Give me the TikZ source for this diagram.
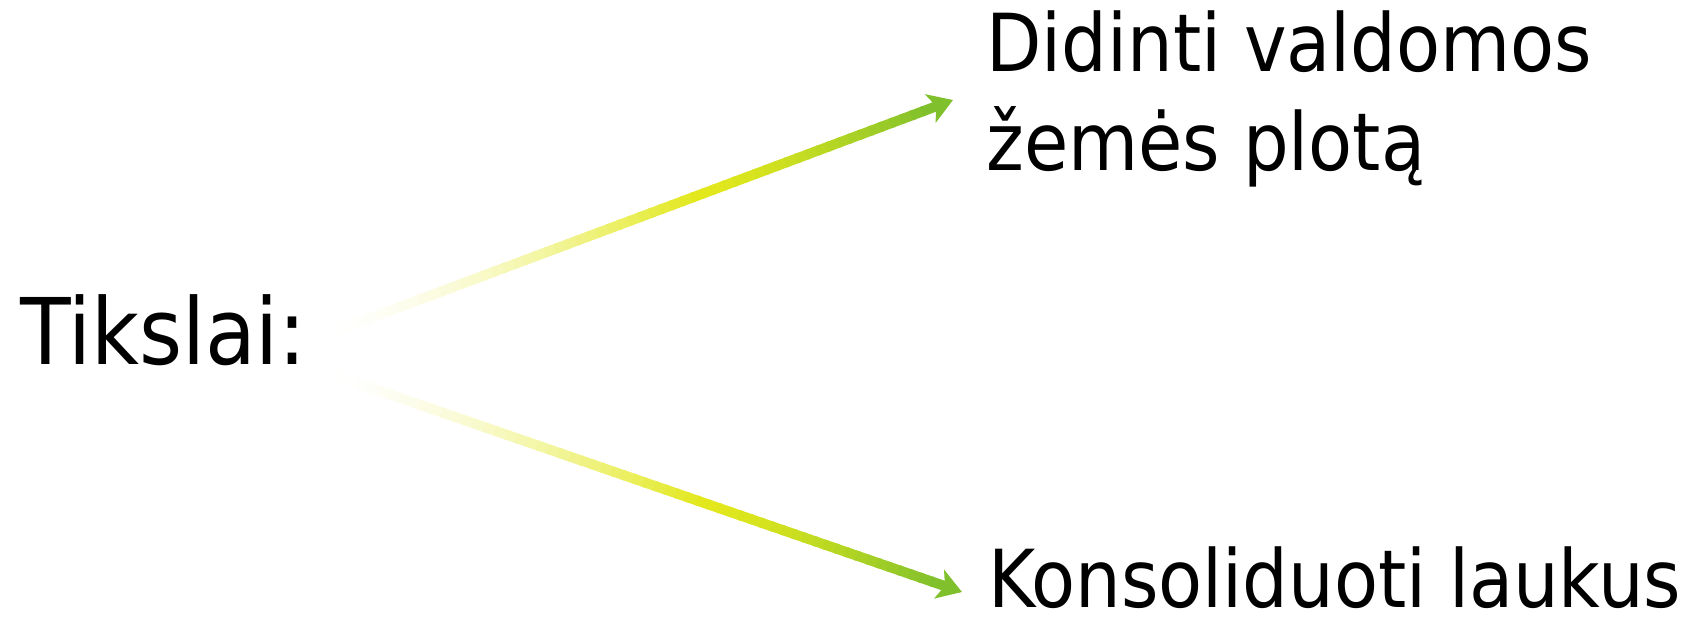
\documentclass[tikz,border=0pt]{standalone}
\usepackage{fontspec}
\setmainfont{DejaVu Sans Condensed}
\usepackage{tikz}
\usetikzlibrary{arrows.meta,calc}

\definecolor{tipgreen}{RGB}{128,192,44}
\definecolor{midyellow}{RGB}{226,232,28}

\tikzset{
  goaltext/.style={anchor=base west, inner sep=0pt, align=left,
    font=\fontsize{40}{49.5}\selectfont},
  headtext/.style={anchor=base west, inner sep=0pt,
    font=\fontsize{46}{56}\selectfont},
  tipend/.style={color=tipgreen, line width=5pt,
    -{Stealth[length=12pt,width=15pt,inset=3pt]}},
}

\begin{document}
\begin{tikzpicture}[x=0.5pt,y=-0.5pt]
  \useasboundingbox (0,0) rectangle (1697,627);

  % Text Node
  \node [headtext] (tikslai) at (20,364) {Tikslai:};
  % Text Node
  \node [goaltext] (plotas) at (986,170) {Didinti valdomos\\žemės plotą};
  % Text Node
  \node [goaltext] (laukai) at (988,607) {Konsoliduoti laukus};

  % arrow ends
  \coordinate (upfrom) at (325,335);
  \coordinate (upto) at (953,100);
  \coordinate (lowfrom) at (325,372);
  \coordinate (lowto) at (962,592);

  % fading shafts
  \foreach \a/\b in {upfrom/upto, lowfrom/lowto} {
    \foreach \i in {0,...,35} {
      \pgfmathsetmacro\p{100*(\i/35)^1.6}
      \draw [line width=5pt, color=midyellow!\p!white]
        ($(\a)!{\i/60}!(\b)$) -- ($(\a)!{(\i+1.3)/60}!(\b)$);
    }
    \foreach \i in {36,...,56} {
      \pgfmathsetmacro\p{100*((\i-36)/21)^1.4}
      \draw [line width=5pt, color=tipgreen!\p!midyellow]
        ($(\a)!{\i/60}!(\b)$) -- ($(\a)!{(\i+1.3)/60}!(\b)$);
    }
    \draw [tipend] ($(\a)!{57/60}!(\b)$) -- (\b);
  }

\end{tikzpicture}
\end{document}
